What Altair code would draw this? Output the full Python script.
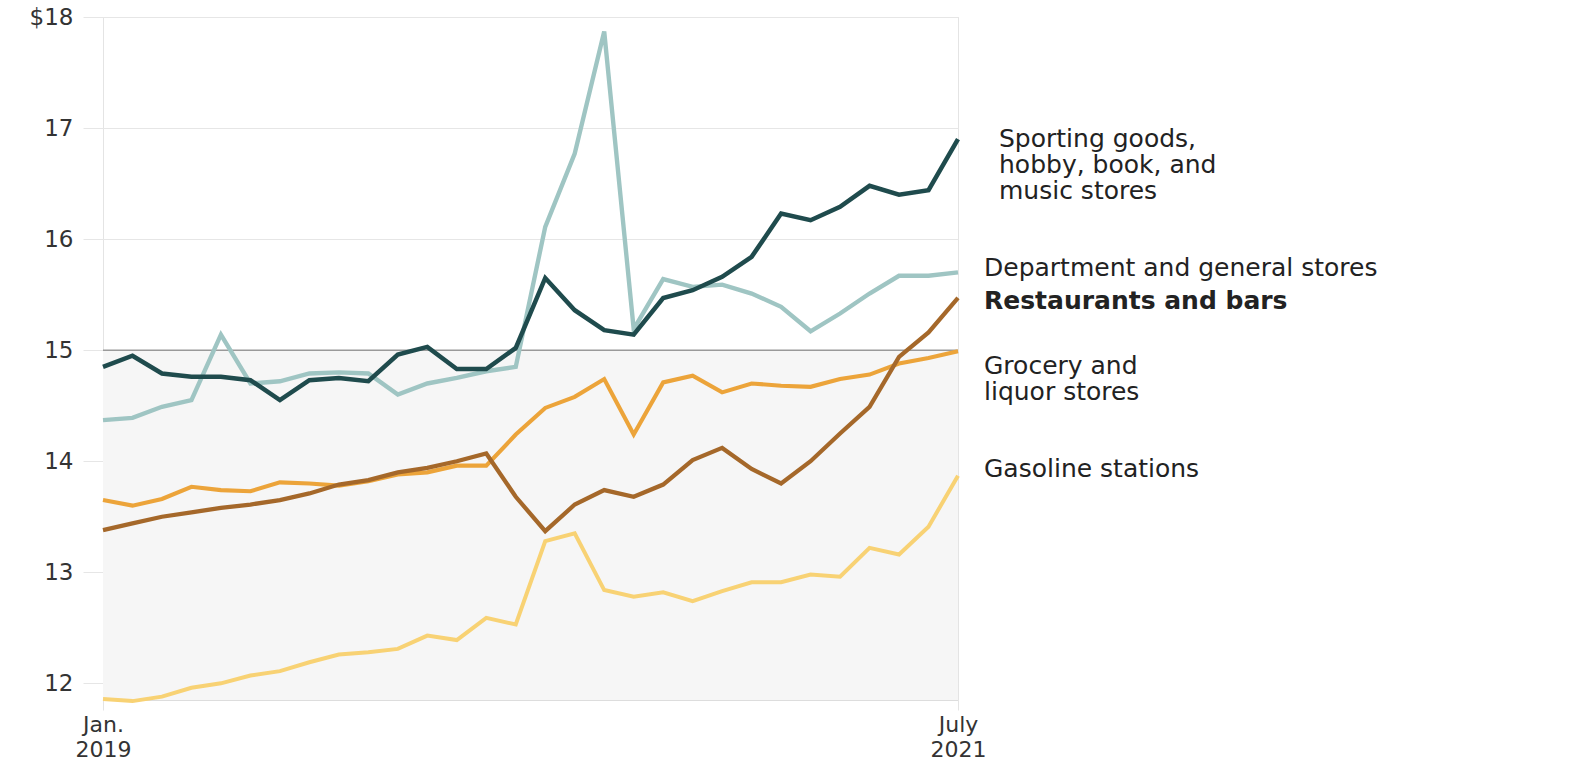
import altair as alt
import pandas as pd

# Month index 0 = Jan. 2019 ... 29 = last point (labelled July 2021)
months = list(range(30))

sporting = [14.85, 14.95, 14.79, 14.76, 14.76, 14.73, 14.55, 14.73, 14.75, 14.72,
            14.96, 15.03, 14.83, 14.83, 15.02, 15.65, 15.36, 15.18, 15.14, 15.47,
            15.54, 15.66, 15.84, 16.23, 16.17, 16.29, 16.48, 16.40, 16.44, 16.90]
department = [14.37, 14.39, 14.49, 14.55, 15.14, 14.70, 14.72, 14.79, 14.80, 14.79,
              14.60, 14.70, 14.75, 14.81, 14.85, 16.11, 16.77, 17.87, 15.19, 15.64,
              15.57, 15.59, 15.51, 15.39, 15.17, 15.33, 15.51, 15.67, 15.67, 15.70]
restaurants = [13.38, 13.44, 13.50, 13.54, 13.58, 13.61, 13.65, 13.71, 13.79, 13.83,
               13.90, 13.94, 14.00, 14.07, 13.68, 13.37, 13.61, 13.74, 13.68, 13.79,
               14.01, 14.12, 13.93, 13.80, 14.00, 14.25, 14.49, 14.94, 15.16, 15.47]
grocery = [13.65, 13.60, 13.66, 13.77, 13.74, 13.73, 13.81, 13.80, 13.78, 13.82,
           13.88, 13.90, 13.96, 13.96, 14.24, 14.48, 14.58, 14.74, 14.24, 14.71,
           14.77, 14.62, 14.70, 14.68, 14.67, 14.74, 14.78, 14.88, 14.93, 14.99]
gasoline = [11.86, 11.84, 11.88, 11.96, 12.00, 12.07, 12.11, 12.19, 12.26, 12.28,
            12.31, 12.43, 12.39, 12.59, 12.53, 13.28, 13.35, 12.84, 12.78, 12.82,
            12.74, 12.83, 12.91, 12.91, 12.98, 12.96, 13.22, 13.16, 13.41, 13.87]

series_names = ["Sporting", "Department", "Restaurants", "Grocery", "Gasoline"]
series_values = [sporting, department, restaurants, grocery, gasoline]
series_colors = ["#1f4b4d", "#9fc5c3", "#a5682a", "#eca43a", "#f8d274"]
series_widths = [4.5, 4, 4.5, 3.5, 3.5]

label_texts = [["Sporting goods,", "hobby, book, and", "music stores"],
               ["Department and general stores"],
               ["Restaurants and bars"],
               ["Grocery and", "liquor stores"],
               ["Gasoline stations"]]
label_anchor_values = [16.90, 15.74, 15.44, 14.86, 13.93]
label_offsets = [41, 26, 26, 26, 26]
label_weights = ["normal", "normal", "bold", "normal", "normal"]

y_ticks = [12, 13, 14, 15, 16, 17, 18]
x_ticks = [0, 29]
Y_MIN, Y_MAX = 11.85, 18
THRESHOLD = 15

FONT = "DejaVu Sans"

rows = []
for name, vals in zip(series_names, series_values):
    for m, v in zip(months, vals):
        rows.append({"month": m, "wage": v, "series": name})
df = pd.DataFrame(rows)

xscale = alt.Scale(domain=[months[0], months[-1]], nice=False, zero=False)
yscale = alt.Scale(domain=[Y_MIN, Y_MAX], nice=False, zero=False)

band_df = pd.DataFrame({"start": [months[0]], "end": [months[-1]],
                        "top": [THRESHOLD], "bottom": [Y_MIN]})
band = alt.Chart(band_df).mark_rect(color="#f6f6f6").encode(
    x=alt.X("start:Q", scale=xscale, axis=alt.Axis(
        values=x_ticks, grid=True, gridColor="#e4e4e4", domain=False,
        tickColor="#e4e4e4", tickSize=10, labelPadding=4,
        labelExpr="datum.value == 0 ? ['Jan.', '2019'] : ['July', '2021']",
        labelFont=FONT, labelFontSize=22, labelColor="#333333",
        labelLineHeight=25, labelFlush=False, title=None)),
    x2="end:Q",
    y=alt.Y("top:Q", scale=yscale, axis=alt.Axis(
        values=y_ticks, grid=True, gridColor="#e6e6e6", domain=False,
        tickColor="#e6e6e6", tickSize=20, labelPadding=10,
        labelExpr="datum.value == 18 ? '$18' : format(datum.value, 'd')",
        labelFont=FONT, labelFontSize=23, labelColor="#333333", title=None)),
    y2="bottom:Q",
)

thr_df = pd.DataFrame({"start": [months[0]], "end": [months[-1]], "v": [THRESHOLD]})
thr = alt.Chart(thr_df).mark_rule(color="#9a9a9a", strokeWidth=1.5).encode(
    x="start:Q", x2="end:Q", y="v:Q")

lines = alt.Chart(df).mark_line(strokeJoin="miter").encode(
    x=alt.X("month:Q", scale=xscale),
    y=alt.Y("wage:Q", scale=yscale),
    color=alt.Color("series:N", scale=alt.Scale(domain=series_names, range=series_colors), legend=None),
    strokeWidth=alt.StrokeWidth("series:N", scale=alt.Scale(domain=series_names, range=series_widths), legend=None),
    detail="series:N",
)

# draw order: gasoline first, then grocery, restaurants, department, sporting
layers = [band, thr]
for name in reversed(series_names):
    sub = df[df["series"] == name]
    layers.append(lines.properties(data=sub))

lab_layers = []
for txt, yv, off, wt in zip(label_texts, label_anchor_values, label_offsets, label_weights):
    ldf = pd.DataFrame({"month": [months[-1]], "y": [yv], "t": [txt]})
    lab_layers.append(alt.Chart(ldf).mark_text(
        align="left", baseline="middle", dx=off, font=FONT, fontSize=25,
        fontWeight=wt, color="#222222", lineHeight=26).encode(
        x=alt.X("month:Q", scale=xscale), y=alt.Y("y:Q", scale=yscale), text="t"))

chart = alt.layer(*layers, *lab_layers).properties(
    width=855, height=683,
    autosize=alt.AutoSizeParams(type="none"),
    padding={"left": 103, "top": 17, "right": 624, "bottom": 64},
).configure_view(stroke=None).configure(background="white")

chart.save("out.html", embed_options={"renderer": "svg", "actions": False})
